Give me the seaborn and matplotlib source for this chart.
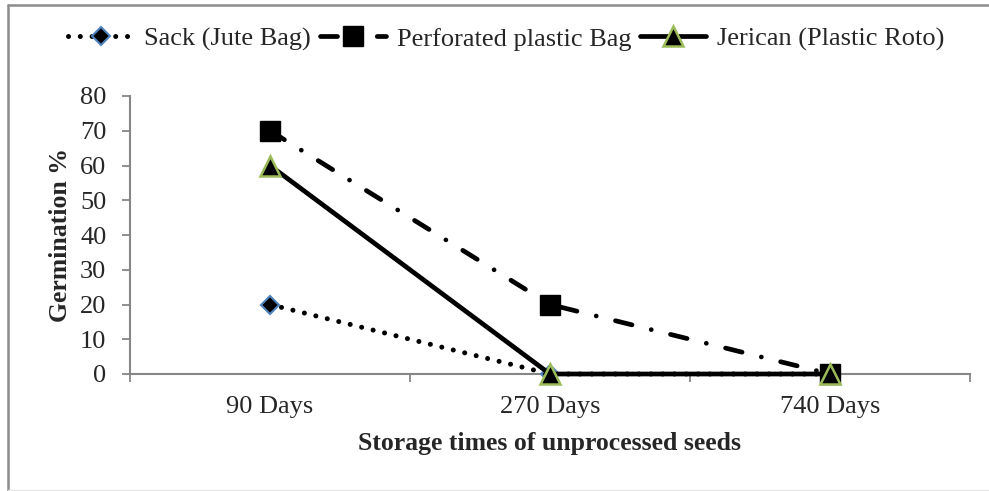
import matplotlib
matplotlib.use("Agg")
import matplotlib.pyplot as plt
from matplotlib.lines import Line2D
import seaborn as sns
import pandas as pd

# Storage periods and germination results
periods = ["90 Days", "270 Days", "740 Days"]
sack = [20, 0, 0]
perforated = [70, 20, 0]
jerican = [60, 0, 0]
series_names = ["Sack (Jute Bag)", "Perforated plastic Bag", "Jerican (Plastic Roto)"]
y_ticks = [0, 10, 20, 30, 40, 50, 60, 70, 80]

sns.set_style("white")
plt.rcParams["font.family"] = ["Liberation Serif", "DejaVu Serif"]

rows = []
for name, vals in zip(series_names, [sack, perforated, jerican]):
    for i, (p, v) in enumerate(zip(periods, vals)):
        rows.append({"series": name, "pos": i, "period": p, "value": v})
df = pd.DataFrame(rows)

styles = {
    "Sack (Jute Bag)": dict(linestyle=(0, (0.01, 2.35)), dash_capstyle="round",
                            marker="D", markersize=9.5, markerfacecolor="black",
                            markeredgecolor="#4F81BD", markeredgewidth=1.5, linewidth=3.6),
    "Perforated plastic Bag": dict(linestyle=(0, (3.6, 4.2, 0.01, 4.2)), dash_capstyle="round",
                                   marker="s", markersize=14, markerfacecolor="black",
                                   markeredgecolor="black", markeredgewidth=1, linewidth=3.4),
    "Jerican (Plastic Roto)": dict(linestyle="-", marker="^", markersize=14.5,
                                   markerfacecolor="black", markeredgecolor="#9BBB59",
                                   markeredgewidth=1.8, linewidth=3.4),
}

fig = plt.figure(figsize=(9.89, 4.91), dpi=100)
ax = fig.add_axes([130 / 989, 1 - 374 / 491, 840 / 989, 278 / 491])

handles = []
for name in series_names:
    sub = df[df["series"] == name]
    st = styles[name]
    sns.lineplot(data=sub, x="pos", y="value", ax=ax, color="black",
                 legend=False, sort=False, clip_on=False, zorder=3, **st)
    handles.append(Line2D([0], [0], color="black", **st))

ax.set_xlim(-0.5, 2.5)
ax.set_ylim(0, 80)
ax.set_yticks(y_ticks)
ax.set_xticks([-0.5, 0.5, 1.5, 2.5])
ax.set_xticklabels([])
ax.set_xticks([0, 1, 2], minor=True)
ax.set_xticklabels(periods, minor=True)
ax.tick_params(axis="x", which="major", direction="out", length=6, width=1.3,
               color="#868686", bottom=True)
ax.tick_params(axis="x", which="minor", length=0, labelsize=19, pad=16)
ax.tick_params(axis="y", direction="out", length=6, width=1.3, color="#868686",
               labelsize=19, pad=11, left=True)

for s in ["top", "right"]:
    ax.spines[s].set_visible(False)
for s in ["left", "bottom"]:
    ax.spines[s].set_color("#868686")
    ax.spines[s].set_linewidth(1.5)

ax.set_xlabel("Storage times of unprocessed seeds", fontsize=18.5, fontweight="bold",
              labelpad=10)
ax.set_ylabel("Germination %", fontsize=18.5, fontweight="bold", labelpad=6)

fig.legend(handles, series_names, loc="center", bbox_to_anchor=(506 / 989, 1 - 39 / 491),
           ncol=3, frameon=False, fontsize=19, handlelength=2.5, handletextpad=0.4,
           columnspacing=0.35, borderaxespad=0)

# Outer chart frame (top and left edges)
fig.add_artist(Line2D([8 / 989, 1.0], [1 - 5 / 491, 1 - 5 / 491], transform=fig.transFigure,
                      color="#8c8c8c", linewidth=1.8))
fig.add_artist(Line2D([8 / 989, 8 / 989], [1 - 5 / 491, 0.0], transform=fig.transFigure,
                      color="#8c8c8c", linewidth=1.8))
fig.add_artist(Line2D([8 / 989, 1.0], [1 / 491, 1 / 491], transform=fig.transFigure,
                      color="#e6e6e6", linewidth=1))

fig.savefig("out.png", dpi=100)
